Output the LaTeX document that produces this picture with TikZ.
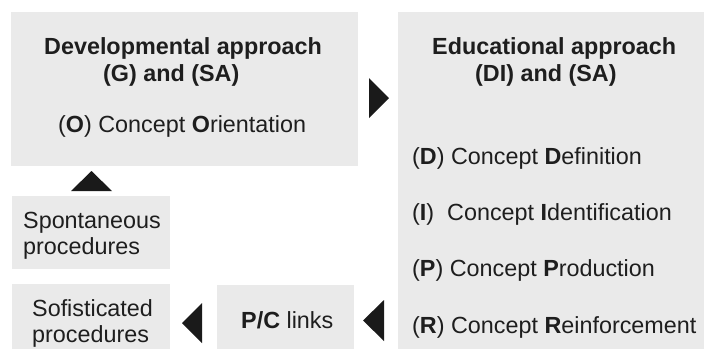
\documentclass[tikz,border=0pt]{standalone}
\usepackage{fontspec}
\setmainfont{Liberation Sans}
\definecolor{boxgray}{HTML}{EAEAEA}
\definecolor{txt}{HTML}{1E1E1E}
\definecolor{tri}{HTML}{1A1A1A}
\begin{document}
\begin{tikzpicture}[x=1pt,y=-1pt,
  box/.style={fill=boxgray, draw=none, inner sep=0pt, anchor=north west},
  lbl/.style={inner sep=0pt, anchor=base west, text=txt, font=\fontsize{23.35}{27}\selectfont},
  arrowtri/.style={fill=tri, draw=none}]
\useasboundingbox (0,0) rectangle (704,349);
% boxes
\node[box, minimum width=347pt, minimum height=154pt] (dev) at (11,12) {};
\node[box, minimum width=306pt, minimum height=337pt] (edu) at (398,12) {};
\node[box, minimum width=158pt, minimum height=73pt] (spont) at (12,196) {};
\node[box, minimum width=158pt, minimum height=65pt] (sofis) at (12,284) {};
\node[box, minimum width=137pt, minimum height=64pt] (pc) at (217,285) {};
% developmental text
\node[lbl] (d1) at (44,54) {\textbf{Developmental approach}};
\node[lbl] (d2) at (103,81) {\textbf{(G) and (SA)}};
\node[lbl] (d3) at (58,132.5) {(\textbf{O}) Concept \textbf{O}rientation};
% educational text
\node[lbl] (e1) at (432,54) {\textbf{Educational approach}};
\node[lbl] (e2) at (475,81) {\textbf{(DI) and (SA)}};
\node[lbl] (e3) at (412,164) {(\textbf{D}) Concept \textbf{D}efinition};
\node[lbl] (e4) at (412,220) {(\textbf{I})\ \ Concept \textbf{I}dentification};
\node[lbl] (e5) at (412,276) {(\textbf{P}) Concept \textbf{P}roduction};
\node[lbl] (e6) at (412,333) {(\textbf{R}) Concept \textbf{R}einforcement};
% small boxes text
\node[lbl] (s1) at (23,228) {Spontaneous};
\node[lbl] (s2) at (23,254) {procedures};
\node[lbl] (f1) at (32,316.5) {Sofisticated};
\node[lbl] (f2) at (32,342) {procedures};
\node[lbl] (p1) at (241,328) {\textbf{P/C} links};
% triangles
\fill[arrowtri] (369,78) -- (369,118) -- (389,98) -- cycle;
\fill[arrowtri] (71,191) -- (112,191) -- (91.5,171) -- cycle;
\fill[arrowtri] (202,303) -- (202,343) -- (182,323) -- cycle;
\fill[arrowtri] (384,300) -- (384,341) -- (363,320.5) -- cycle;
\end{tikzpicture}
\end{document}
